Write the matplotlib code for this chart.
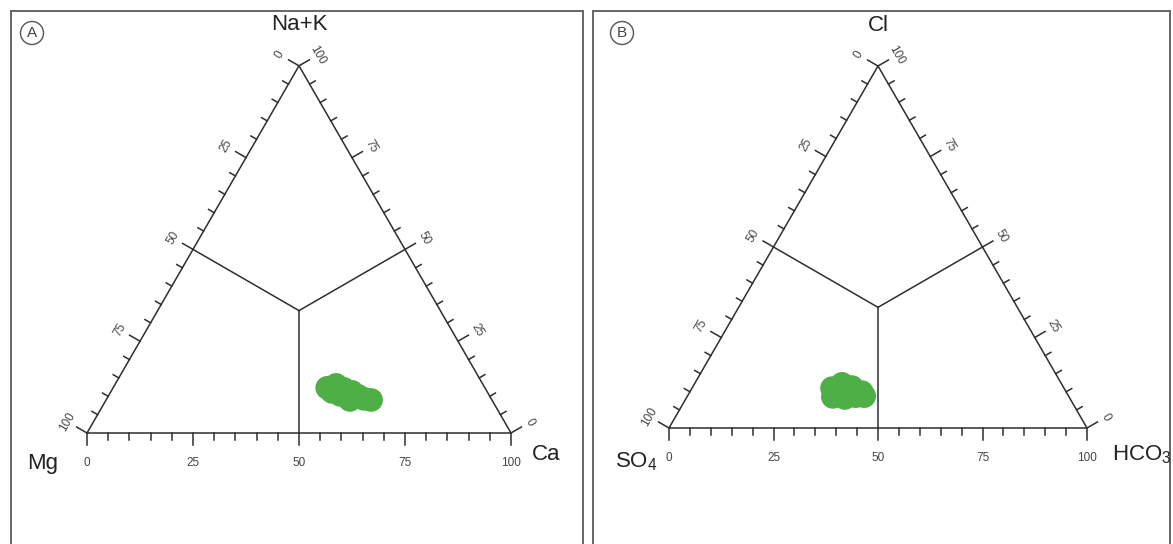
import numpy as np
import matplotlib
matplotlib.use("Agg")
import matplotlib.pyplot as plt
from matplotlib.patches import Ellipse

plt.rcParams['font.family'] = ['Liberation Sans', 'DejaVu Sans']
plt.rcParams['mathtext.fontset'] = 'custom'
plt.rcParams['mathtext.rm'] = 'Liberation Sans'
plt.rcParams['mathtext.it'] = 'Liberation Sans'
plt.rcParams['mathtext.default'] = 'regular'

# ---- data: cation percentages (panel A) ----
cation_ca = [50.5, 52.2, 54.6, 56.9, 54.5, 58.9, 60.7, 62.5, 57.5, 52.2]
cation_nak = [12.3, 13.1, 12.0, 11.2, 10.4, 10.1, 9.3, 9.0, 9.0, 11.2]
cation_mg = [100 - c - n for c, n in zip(cation_ca, cation_nak)]

# ---- data: anion percentages (panel B) ----
anion_hco3 = [33.5, 35.3, 38.1, 41.2, 34.9, 37.9, 40.3, 42.3, 35.9]
anion_cl = [11.0, 12.2, 11.3, 9.9, 8.6, 8.3, 8.8, 8.8, 9.9]
anion_so4 = [100 - h - c for h, c in zip(anion_hco3, anion_cl)]

tick_values = [0, 25, 50, 75, 100]
minor_step = 5

W, H = 1173, 544
fig = plt.figure(figsize=(W / 100, H / 100), dpi=100)

H3 = np.sqrt(3) / 2
LINE = '#2e2e2e'
TXT = '#444444'
GREEN = '#4daf45'


def make_axes(left_px, right_px, top_px, origin_px, scale):
    ax = fig.add_axes([left_px / W, 0, (right_px - left_px) / W, (H - top_px) / H])
    ax.set_xlim(-(origin_px[0] - left_px) / scale, (right_px - origin_px[0]) / scale)
    ax.set_ylim(-(H - origin_px[1]) / scale, (origin_px[1] - top_px) / scale)
    ax.set_xticks([])
    ax.set_yticks([])
    for side, sp in ax.spines.items():
        sp.set_color('#666666')
        sp.set_linewidth(1.4)
    ax.spines['bottom'].set_visible(False)
    return ax


def to_xy(base_val, right_val):
    # base_val: component growing to the right on the base, right_val: apex component
    b = np.asarray(base_val) / 100.0
    r = np.asarray(right_val) / 100.0
    return b + r / 2, r * H3


def draw_triangle(ax, scale, labels):
    px = 1.0 / scale
    apex = np.array([0.5, H3])
    bl = np.array([0.0, 0.0])
    br = np.array([1.0, 0.0])
    lw = 1.1
    ax.plot([bl[0], br[0], apex[0], bl[0]], [bl[1], br[1], apex[1], bl[1]],
            color=LINE, lw=lw, solid_joinstyle='miter')
    # internal division lines to the centroid
    cen = np.array([0.5, H3 / 3])
    for p in [(bl + apex) / 2, (br + apex) / 2, (bl + br) / 2]:
        ax.plot([p[0], cen[0]], [p[1], cen[1]], color=LINE, lw=lw)

    n_left = np.array([-np.cos(np.pi / 6), 0.5])
    n_right = np.array([np.cos(np.pi / 6), 0.5])

    for v in range(0, 101, minor_step):
        major = v % 25 == 0
        L = (12 if major else 6.5) * px
        # left side: 0 at apex, 100 at bottom-left
        pl = apex + v / 100 * (bl - apex)
        ax.plot([pl[0], pl[0] + n_left[0] * L], [pl[1], pl[1] + n_left[1] * L], color=LINE, lw=lw)
        # right side: 100 at apex, 0 at bottom-right
        pr = br + v / 100 * (apex - br)
        ax.plot([pr[0], pr[0] + n_right[0] * L], [pr[1], pr[1] + n_right[1] * L], color=LINE, lw=lw)
        # base: 0 at left, 100 at right
        pb = bl + v / 100 * (br - bl)
        ax.plot([pb[0], pb[0]], [pb[1], pb[1] - L], color=LINE, lw=lw)

    for v in tick_values:
        pl = apex + v / 100 * (bl - apex)
        q = pl + n_left * 23 * px
        ax.text(q[0], q[1], str(v), rotation=60, ha='center', va='center',
                fontsize=8.5, color=TXT, rotation_mode='anchor')
        pr = br + v / 100 * (apex - br)
        q = pr + n_right * 22 * px
        ax.text(q[0], q[1], str(v), rotation=-60, ha='center', va='center',
                fontsize=8.5, color=TXT, rotation_mode='anchor')
        pb = bl + v / 100 * (br - bl)
        ax.text(pb[0], pb[1] - 30 * px, str(v), ha='center', va='center',
                fontsize=8.5, color=TXT)

    top, left, right = labels
    ax.text(0.5, H3 + 41 * px, top, ha='center', va='center', fontsize=16, color='#222222')
    ax.text(left[1] * px, left[2] * px, left[0], ha='center', va='center', fontsize=16, color='#222222')
    ax.text(1 + right[1] * px, right[2] * px, right[0], ha='center', va='center', fontsize=16, color='#222222')


# Panel A: cations
sA = 424.0
axA = make_axes(11, 583, 11, (87, 433), sA)
draw_triangle(axA, sA, ('Na+K', ('Mg', -44, -30), ('Ca', 35, -22)))
xa, ya = to_xy(cation_ca, cation_nak)
axA.scatter(xa, ya, s=290, color=GREEN, edgecolors='none', zorder=5)

# Panel B: anions
sB = 418.0
axB = make_axes(593, 1170, 11, (669, 428), sB)
draw_triangle(axB, sB, ('Cl', ('SO$_4$', -33, -34), ('HCO$_3$', 55, -27)))
xb, yb = to_xy(anion_hco3, anion_cl)
axB.scatter(xb, yb, s=290, color=GREEN, edgecolors='none', zorder=5)

# circled panel letters
for letter, cx in [('A', 32), ('B', 622)]:
    cy = 1 - 33 / H
    fig.patches.append(Ellipse((cx / W, cy), 23 / W, 23 / H, transform=fig.transFigure,
                               facecolor='none', edgecolor='#555555', lw=1.0))
    fig.text(cx / W, cy, letter, ha='center', va='center', fontsize=11, color='#444444')

fig.savefig('out.png', dpi=100)
